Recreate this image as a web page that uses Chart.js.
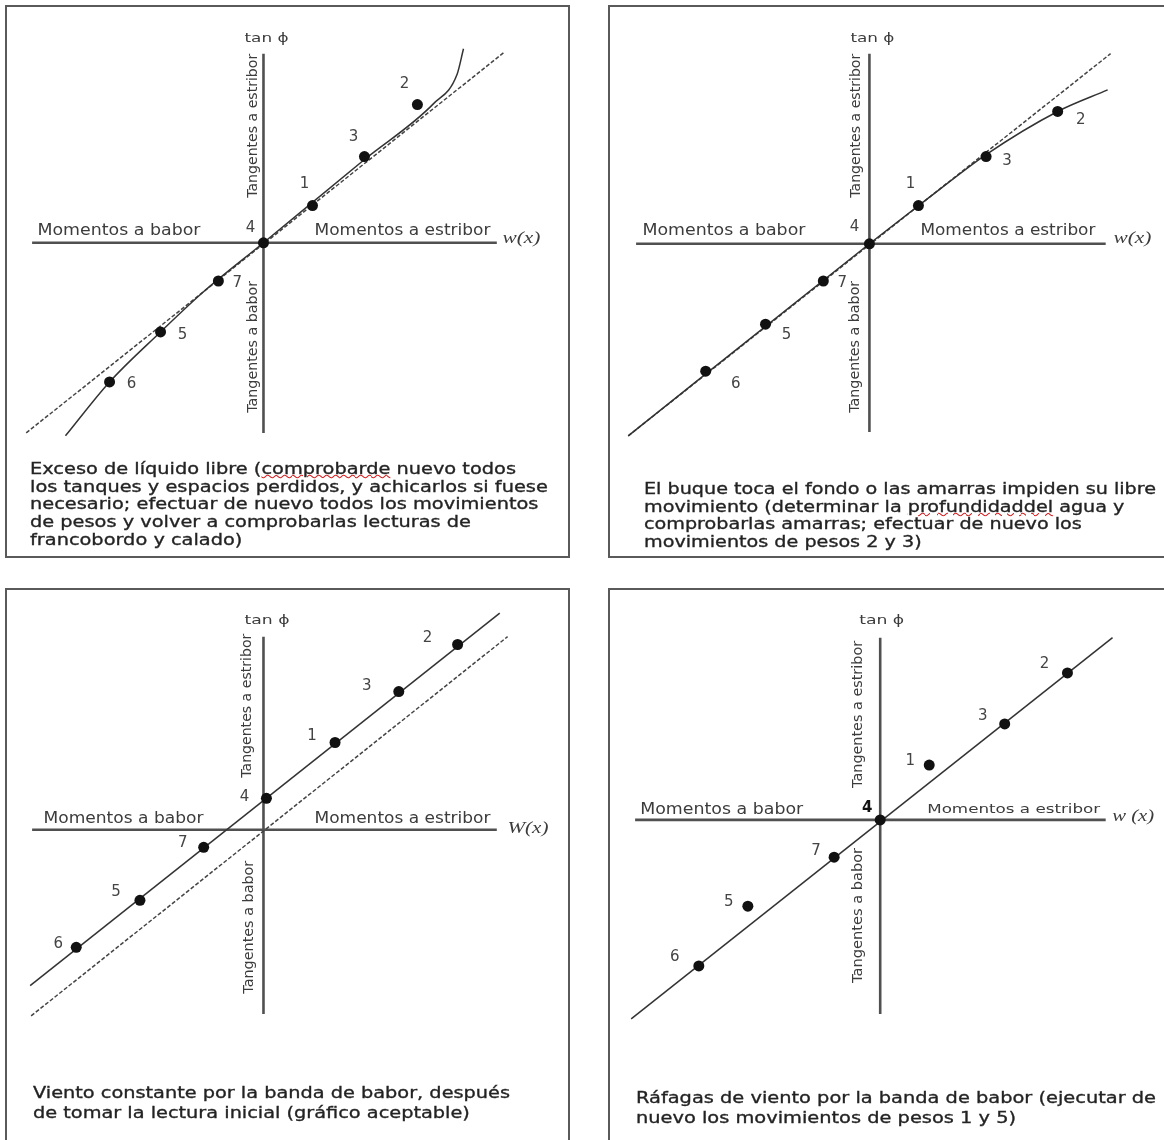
<!DOCTYPE html>
<html>
<head>
<meta charset="utf-8">
<script src="https://cdn.jsdelivr.net/npm/chart.js@4.4.1/dist/chart.umd.min.js"></script>
<style>
html, body { margin: 0; padding: 0; background: #fff; }
body { width: 1164px; height: 1140px; overflow: hidden; position: relative; }
.panel { position: absolute; border: 2px solid #5a5a5a; box-sizing: border-box; }
.panel canvas { position: absolute; left: 0; top: 0; }
.cap { position: absolute; font-family: "DejaVu Sans"; font-size: 16px; color: #222; white-space: nowrap; transform-origin: 0 0; -webkit-text-stroke: 0.35px #2a2a2a; }
.cap div { height: 17.7px; line-height: 17.7px; }
.cap.wide div { height: 19.5px; line-height: 19.5px; }
.sp { text-decoration: underline wavy #d42020; text-decoration-thickness: 1px; text-underline-offset: 0px; }
</style>
</head>
<body>

<div class="panel" style="left:5px;top:5px;width:565px;height:553px"><canvas id="c1" width="561" height="549"></canvas></div>
<div class="panel" style="left:608px;top:5px;width:565px;height:553px"><canvas id="c2" width="561" height="549"></canvas></div>
<div class="panel" style="left:5px;top:588px;width:565px;height:570px"><canvas id="c3" width="561" height="550"></canvas></div>
<div class="panel" style="left:608px;top:588px;width:565px;height:570px"><canvas id="c4" width="561" height="550"></canvas></div>

<div class="cap" data-w="486" style="left:30px;top:460px">
  <div>Exceso de líquido libre (<span class="sp">comprobarde</span> nuevo todos</div>
  <div>los tanques y espacios perdidos, y achicarlos si fuese</div>
  <div>necesario; efectuar de nuevo todos los movimientos</div>
  <div>de pesos y volver a comprobarlas lecturas de</div>
  <div>francobordo y calado)</div>
</div>
<div class="cap" data-w="512" style="left:644px;top:480px">
  <div>El buque toca el fondo o las amarras impiden su libre</div>
  <div>movimiento (determinar la <span class="sp">profundidaddel</span> agua y</div>
  <div>comprobarlas amarras; efectuar de nuevo los</div>
  <div>movimientos de pesos 2 y 3)</div>
</div>
<div class="cap wide" data-w="477" style="left:33px;top:1083px">
  <div>Viento constante por la banda de babor, después</div>
  <div>de tomar la lectura inicial (gráfico aceptable)</div>
</div>
<div class="cap wide" data-w="520" style="left:636px;top:1088px">
  <div>Ráfagas de viento por la banda de babor (ejecutar de</div>
  <div>nuevo los movimientos de pesos 1 y 5)</div>
</div>

<script>
// weight movements 1..7, x = heeling moment w(x), y = tan phi
const pointNums = ['1', '2', '3', '4', '5', '6', '7'];

// panel 1 - free liquid
const p1X = [1.00, 3.14, 2.06, 0, -2.10, -3.14, -0.92];
const p1Y = [0.76, 2.82, 1.76, 0, -1.82, -2.84, -0.78];
const p1DashX = [-4.84, 4.90];
const p1DashY = [-3.88, 3.88];
const p1CurveX = [-4.04, -3.14, -2.10, -1.20, 0, 2.06, 3.47, 3.95, 4.08];
const p1CurveY = [-3.94, -2.84, -1.82, -0.98, 0, 1.70, 2.84, 3.44, 3.96];
const p1AxisX = [-4.72, 4.76];
const p1AxisY = [-3.88, 3.86];

// panel 2 - touching bottom / moorings
const p2X = [1.00, 3.84, 2.38, 0, -2.12, -3.34, -0.94];
const p2Y = [0.78, 2.70, 1.78, 0, -1.64, -2.60, -0.76];
const p2DashX = [-4.92, 4.92];
const p2DashY = [-3.92, 3.88];
const p2CurveX = [-4.92, 0, 1.20, 2.38, 3.84, 4.86];
const p2CurveY = [-3.92, 0, 0.93, 1.82, 2.70, 3.14];
const p2AxisX = [-4.76, 4.82];
const p2AxisY = [-3.84, 3.88];

// panel 3 - constant wind
const p3X = [1.46, 3.96, 2.76, 0.06, -2.52, -3.82, -1.22];
const p3Y = [1.78, 3.78, 2.82, 0.64, -1.44, -2.40, -0.36];
const p3LineX = [-4.76, 4.82];
const p3LineY = [-3.18, 4.42];
const p3DashX = [-4.74, 4.98];
const p3DashY = [-3.80, 3.94];
const p3AxisX = [-4.72, 4.76];
const p3AxisY = [-3.76, 3.94];

// panel 4 - gusts
const p4X = [1.00, 3.82, 2.54, 0, -2.70, -3.70, -0.94];
const p4Y = [1.12, 3.00, 1.96, 0, -1.76, -2.98, -0.76];
const p4LineX = [-5.08, 4.74];
const p4LineY = [-4.06, 3.72];
const p4AxisX = [-5.00, 4.60];
const p4AxisY = [-3.96, 3.72];

function pts(xs, ys) {
  return xs.map((x, i) => ({ x: x, y: ys[i] }));
}

const annotate = {
  id: 'annotate',
  afterDatasetsDraw(chart, args, opts) {
    const ctx = chart.ctx;
    const ox = chart.scales.x.getPixelForValue(0);
    const oy = chart.scales.y.getPixelForValue(0);
    (opts.texts || []).forEach(t => {
      ctx.save();
      ctx.font = t.font;
      ctx.fillStyle = t.color || '#3c3c3c';
      ctx.textBaseline = 'middle';
      ctx.textAlign = 'left';
      ctx.translate(ox + t.dx, oy + t.dy);
      if (t.rot) ctx.rotate(-Math.PI / 2);
      const m = ctx.measureText(t.text).width;
      if (t.w) ctx.scale(t.w / m, 1);
      ctx.fillText(t.text, 0, 0);
      ctx.restore();
    });
    // numbers next to the dots
    const meta = chart.getDatasetMeta(0);
    ctx.save();
    ctx.textBaseline = 'middle';
    ctx.textAlign = 'center';
    meta.data.forEach((el, i) => {
      ctx.font = (i === 3 && opts.fourFont) ? opts.fourFont : '15px "DejaVu Sans"';
      ctx.fillStyle = (i === 3 && opts.fourFont) ? '#111' : '#444';
      const o = opts.offs[i];
      ctx.fillText(pointNums[i], el.x + o[0], el.y + o[1]);
    });
    ctx.restore();
  }
};

function axisTexts(a) {
  const f = '15px "DejaVu Sans"';
  const fr = '14px "DejaVu Sans"';
  return [
    { text: 'Momentos a babor', font: f, dx: a.bab[0], dy: a.bab[1], w: a.bab[2] },
    { text: 'Momentos a estribor', font: a.estFont || f, dx: a.est[0], dy: a.est[1], w: a.est[2] },
    { text: a.wx, font: 'italic 17px "Liberation Serif"', dx: a.w[0], dy: a.w[1], w: a.w[2] },
    { text: 'tan ϕ', font: '13px "DejaVu Sans"', dx: a.tan[0], dy: a.tan[1], w: a.tan[2] },
    { text: 'Tangentes a estribor', font: fr, dx: a.te[0], dy: a.te[1], w: a.te[2], rot: true },
    { text: 'Tangentes a babor', font: fr, dx: a.tb[0], dy: a.tb[1], w: a.tb[2], rot: true }
  ];
}

function makeChart(id, range, datasets, texts, offs, fourFont) {
  new Chart(document.getElementById(id), {
    type: 'scatter',
    data: { datasets: datasets },
    options: {
      responsive: false,
      animation: false,
      events: [],
      layout: { padding: 0 },
      plugins: {
        legend: { display: false },
        tooltip: { enabled: false },
        annotate: { texts: texts, offs: offs, fourFont: fourFont }
      },
      scales: {
        x: { type: 'linear', min: range[0], max: range[1], display: false },
        y: { type: 'linear', min: range[2], max: range[3], display: false }
      }
    },
    plugins: [annotate]
  });
}

const dotStyle = { showLine: false, pointRadius: 5.5, pointBackgroundColor: '#111', pointBorderColor: '#111', pointBorderWidth: 0 };
const axisStyle = { showLine: true, pointRadius: 0, borderColor: '#505050', borderWidth: 2.6 };
const dashStyle = { showLine: true, pointRadius: 0, borderColor: '#444', borderWidth: 1.5, borderDash: [4, 2] };
const solidStyle = { showLine: true, pointRadius: 0, borderColor: '#333', borderWidth: 1.5 };

function axes(ax, ay) {
  return [
    Object.assign({ data: ax.map(x => ({ x: x, y: 0 })) }, axisStyle),
    Object.assign({ data: ay.map(y => ({ x: 0, y: y })) }, axisStyle)
  ];
}

makeChart('c1', [-5.12, 6.10, -6.28, 4.70], [
  Object.assign({ data: pts(p1X, p1Y) }, dotStyle),
  Object.assign({ data: pts(p1CurveX, p1CurveY), cubicInterpolationMode: 'monotone' }, solidStyle),
  Object.assign({ data: pts(p1DashX, p1DashY) }, dashStyle),
  ...axes(p1AxisX, p1AxisY)
], axisTexts({
  bab: [-226, -12, 163], est: [51, -12, 176], wx: 'w(x)', w: [239, -4, 38],
  tan: [-19, -204, 44], te: [-10, -45, 144], tb: [-10, 170, 132]
}), [[-8, -21], [-13, -21], [-11, -19], [-13, -15], [22, 3], [22, 2], [19, 2]]);

makeChart('c2', [-5.18, 6.04, -6.26, 4.72], [
  Object.assign({ data: pts(p2X, p2Y) }, dotStyle),
  Object.assign({ data: pts(p2CurveX, p2CurveY), cubicInterpolationMode: 'monotone' }, solidStyle),
  Object.assign({ data: pts(p2DashX, p2DashY) }, dashStyle),
  ...axes(p2AxisX, p2AxisY)
], axisTexts({
  bab: [-227, -13, 163], est: [51, -13, 175], wx: 'w(x)', w: [244, -5, 38],
  tan: [-19, -205, 44], te: [-13, -46, 144], tb: [-14, 169, 132]
}), [[-8, -21], [23, 9], [21, 5], [-15, -17], [21, 11], [30, 13], [19, 2]]);

makeChart('c3', [-5.12, 6.10, -6.22, 4.78], [
  Object.assign({ data: pts(p3X, p3Y) }, dotStyle),
  Object.assign({ data: pts(p3LineX, p3LineY) }, solidStyle),
  Object.assign({ data: pts(p3DashX, p3DashY) }, dashStyle),
  ...axes(p3AxisX, p3AxisY)
], axisTexts({
  bab: [-220, -11, 160], est: [51, -11, 176], wx: 'W(x)', w: [244, -1, 41],
  tan: [-19, -209, 45], te: [-16, -52, 144], tb: [-14, 164, 133]
}), [[-23, -6], [-30, -6], [-32, -5], [-22, -1], [-24, -8], [-18, -3], [-21, -4]]);

makeChart('c4', [-5.40, 5.82, -6.42, 4.58], [
  Object.assign({ data: pts(p4X, p4Y) }, dotStyle),
  Object.assign({ data: pts(p4LineX, p4LineY) }, solidStyle),
  ...axes(p4AxisX, p4AxisY)
], axisTexts({
  bab: [-240, -10, 163], est: [47, -10, 173], estFont: '13px "DejaVu Sans"', wx: 'w (x)', w: [232, -3, 42],
  tan: [-21, -199, 45], te: [-22, -32, 147], tb: [-22, 163, 135]
}), [[-19, -4], [-23, -9], [-22, -8], [-13, -12], [-19, -4], [-24, -9], [-18, -6]], 'bold 15px "DejaVu Sans"');

// fit captions to the widths of the original lines
document.querySelectorAll('.cap').forEach(c => {
  const line = c.children[0];
  const r = document.createRange();
  r.selectNodeContents(line);
  const w = r.getBoundingClientRect().width;
  c.style.transform = 'scaleX(' + (parseFloat(c.dataset.w) / w) + ')';
});
</script>
</body>
</html>
